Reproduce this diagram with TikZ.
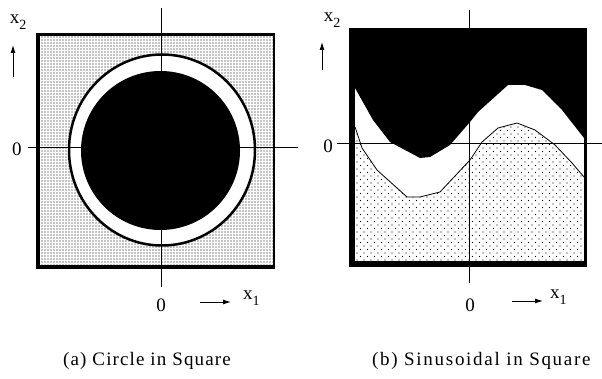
\documentclass[tikz,border=0pt]{standalone}
\usepackage{fontspec}
\setmainfont{Liberation Serif}
\usetikzlibrary{patterns,arrows.meta}
\pgfdeclarepatternformonly{densedots}{\pgfqpoint{-1pt}{-1pt}}{\pgfqpoint{1pt}{1pt}}{\pgfqpoint{3pt}{3pt}}{\pgfpathcircle{\pgfqpoint{0pt}{0pt}}{.6pt}\pgfusepath{fill}}
\pgfdeclarepatternformonly{sparsedots}{\pgfqpoint{-1pt}{-1pt}}{\pgfqpoint{5pt}{5pt}}{\pgfqpoint{7pt}{7pt}}{\pgfpathcircle{\pgfqpoint{0pt}{0pt}}{.65pt}\pgfpathcircle{\pgfqpoint{3.5pt}{3.5pt}}{.65pt}\pgfusepath{fill}}
\newcommand{\subs}[1]{\raisebox{-0.3em}{\fontsize{14}{14}\selectfont #1}}
\begin{document}
\begin{tikzpicture}[x=1pt,y=-1pt,
  lbl/.style={font=\fontsize{19}{21}\selectfont, inner sep=0pt},
  capt/.style={inner sep=0pt, anchor=west},
  axis/.style={line width=0.9pt},
  arr/.style={-{Latex[length=8pt,width=5pt]}, line width=0.9pt}]
\useasboundingbox[fill=white] (0,0) rectangle (602,379);
% ---------- left panel ----------
\fill[black] (36,33) rectangle (275,269);
\fill[white] (40,36) rectangle (273,265);
\fill[pattern=densedots] (40,36) rectangle (273,265);
\fill[white] (162,150) ellipse [x radius=94, y radius=96];
\draw[line width=2.5pt] (162,150) ellipse [x radius=93, y radius=95.5];
\fill[black] (160.5,150.5) circle [radius=79.5];
\coordinate (aT) at (161,8);
\coordinate (aB) at (161,287);
\coordinate (aL) at (28,147);
\coordinate (aR) at (298,147);
\draw[axis] (aT) -- (aB);
\draw[axis] (aL) -- (aR);
\node[lbl] (a0L) at (17,149) {0};
\node[lbl] (ax2) at (18,22) {x\subs{2}};
\coordinate (au1) at (13,77);
\coordinate (au2) at (13,45);
\draw[arr] (au1) -- (au2);
\node[lbl] (a0B) at (161,305) {0};
\coordinate (ar1) at (200,302);
\coordinate (ar2) at (231,302);
\draw[arr] (ar1) -- (ar2);
\node[lbl,anchor=west] (ax1) at (243,298) {x\subs{1}};
\node[capt,font=\fontsize{19}{21}\selectfont\addfontfeature{LetterSpace=6}] (capa) at (63,361) {(a) Circle in Square};
% ---------- right panel ----------
\fill[black] (349,28) rectangle (587,267);
\fill[white] (355,31) rectangle (584,261);
\fill[black] (355,31) -- (355,88) -- (373,120) -- (390,142) -- (420,158) -- (430,157) -- (450,145) -- (470,122) -- (478,112) -- (508,85) -- (525,85) -- (542,90) -- (562,110) -- (584,138) -- (584,31) -- cycle;
\fill[pattern=sparsedots] (355,127) -- (362,148) -- (377,170) -- (407,197) -- (420,197) -- (440,192) -- (470,160) -- (482,142) -- (498,128) -- (517,123) -- (535,130) -- (555,145) -- (572,163) -- (584,177) -- (584,261) -- (355,261) -- cycle;
\draw[line width=0.8pt] (355,127) -- (362,148) -- (377,170) -- (407,197) -- (420,197) -- (440,192) -- (470,160) -- (482,142) -- (498,128) -- (517,123) -- (535,130) -- (555,145) -- (572,163) -- (584,177);
\coordinate (bT) at (469,10);
\coordinate (bB) at (469,283);
\coordinate (bL) at (337,143);
\coordinate (bR) at (602,143);
\draw[axis] (bT) -- (bB);
\draw[axis] (bL) -- (bR);
\node[lbl] (b0L) at (328,146) {0};
\node[lbl] (bx2) at (332,20) {x\subs{2}};
\coordinate (bu1) at (322,70);
\coordinate (bu2) at (322,42);
\draw[arr] (bu1) -- (bu2);
\node[lbl] (b0B) at (470,305) {0};
\coordinate (br1) at (512,301);
\coordinate (br2) at (543,301);
\draw[arr] (br1) -- (br2);
\node[lbl,anchor=west] (bx1) at (550,297) {x\subs{1}};
\node[capt,font=\fontsize{19}{21}\selectfont\addfontfeature{LetterSpace=9}] (capb) at (372,361) {(b) Sinusoidal in Square};
\end{tikzpicture}
\end{document}
